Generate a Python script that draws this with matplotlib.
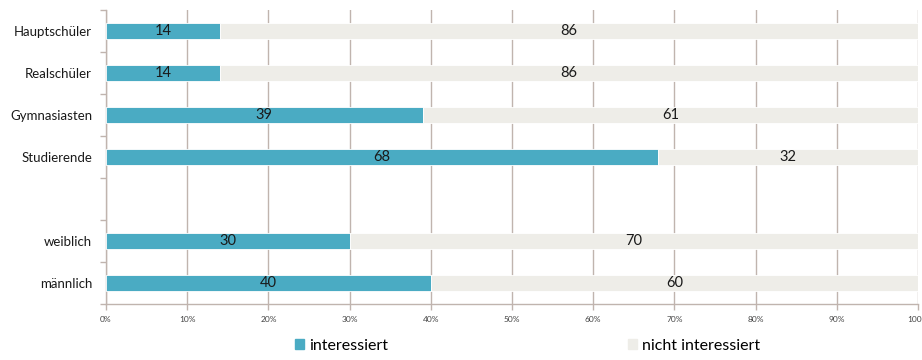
import matplotlib.pyplot as plt
import numpy as np

# data (top to bottom)
categories = ['Hauptschüler', 'Realschüler', 'Gymnasiasten', 'Studierende', '', 'weiblich', 'männlich']
interessiert = [14, 14, 39, 68, np.nan, 30, 40]
nicht_interessiert = [86, 86, 61, 32, np.nan, 70, 60]
xticks = [0, 10, 20, 30, 40, 50, 60, 70, 80, 90, 100]

plt.rcParams['font.family'] = ['Lato', 'DejaVu Sans']

c_int = '#4aabc3'
c_nicht = '#eeede8'
c_grid = '#c0b4ae'

fig = plt.figure(figsize=(9.22, 3.6), dpi=100)
ax = fig.add_axes([106 / 922, 1 - 304 / 360, 812 / 922, 294 / 360])

y = np.arange(len(categories))
h = 0.4
ax.barh(y, interessiert, height=h, color=c_int, edgecolor='white', linewidth=0.6, zorder=3)
ax.barh(y, nicht_interessiert, left=interessiert, height=h, color=c_nicht,
        edgecolor='white', linewidth=0.6, zorder=3)

for yi, a, b in zip(y, interessiert, nicht_interessiert):
    if np.isnan(a):
        continue
    ax.text(a / 2, yi, '{:d}'.format(int(a)), ha='center', va='center', fontsize=10.5, color='#1a1a1a', zorder=4)
    ax.text(a + b / 2, yi, '{:d}'.format(int(b)), ha='center', va='center', fontsize=10.5, color='#1a1a1a', zorder=4)

ax.set_xlim(0, 100)
ax.set_ylim(len(categories) - 0.5, -0.5)
ax.set_xticks(xticks)
ax.set_xticklabels(['{:d}%'.format(t) for t in xticks], fontsize=6, color='#444444')
ax.set_yticks(y)
ax.set_yticklabels(categories, fontsize=9.5, color='#1a1a1a')
ax.set_yticks(np.arange(len(categories) + 1) - 0.5, minor=True)
ax.tick_params(axis='y', which='major', length=0, pad=10)
ax.tick_params(axis='y', which='minor', length=4, color=c_grid, width=1)
ax.tick_params(axis='x', length=4, color=c_grid, width=1, pad=5)

ax.grid(axis='x', color=c_grid, linewidth=1, zorder=0)
for s in ['top', 'right']:
    ax.spines[s].set_visible(False)
for s in ['left', 'bottom']:
    ax.spines[s].set_color(c_grid)
    ax.spines[s].set_linewidth(1)

handles = [plt.Rectangle((0, 0), 1, 1, color=c_int), plt.Rectangle((0, 0), 1, 1, color=c_nicht)]
fig.legend(handles, ['interessiert', 'nicht interessiert'], loc='center', bbox_to_anchor=(0.572, 1 - 346 / 360),
           ncol=2, frameon=False, fontsize=11.5, handlelength=0.6, handleheight=0.6,
           handletextpad=0.3, columnspacing=15)

fig.savefig('out.png', dpi=100)
